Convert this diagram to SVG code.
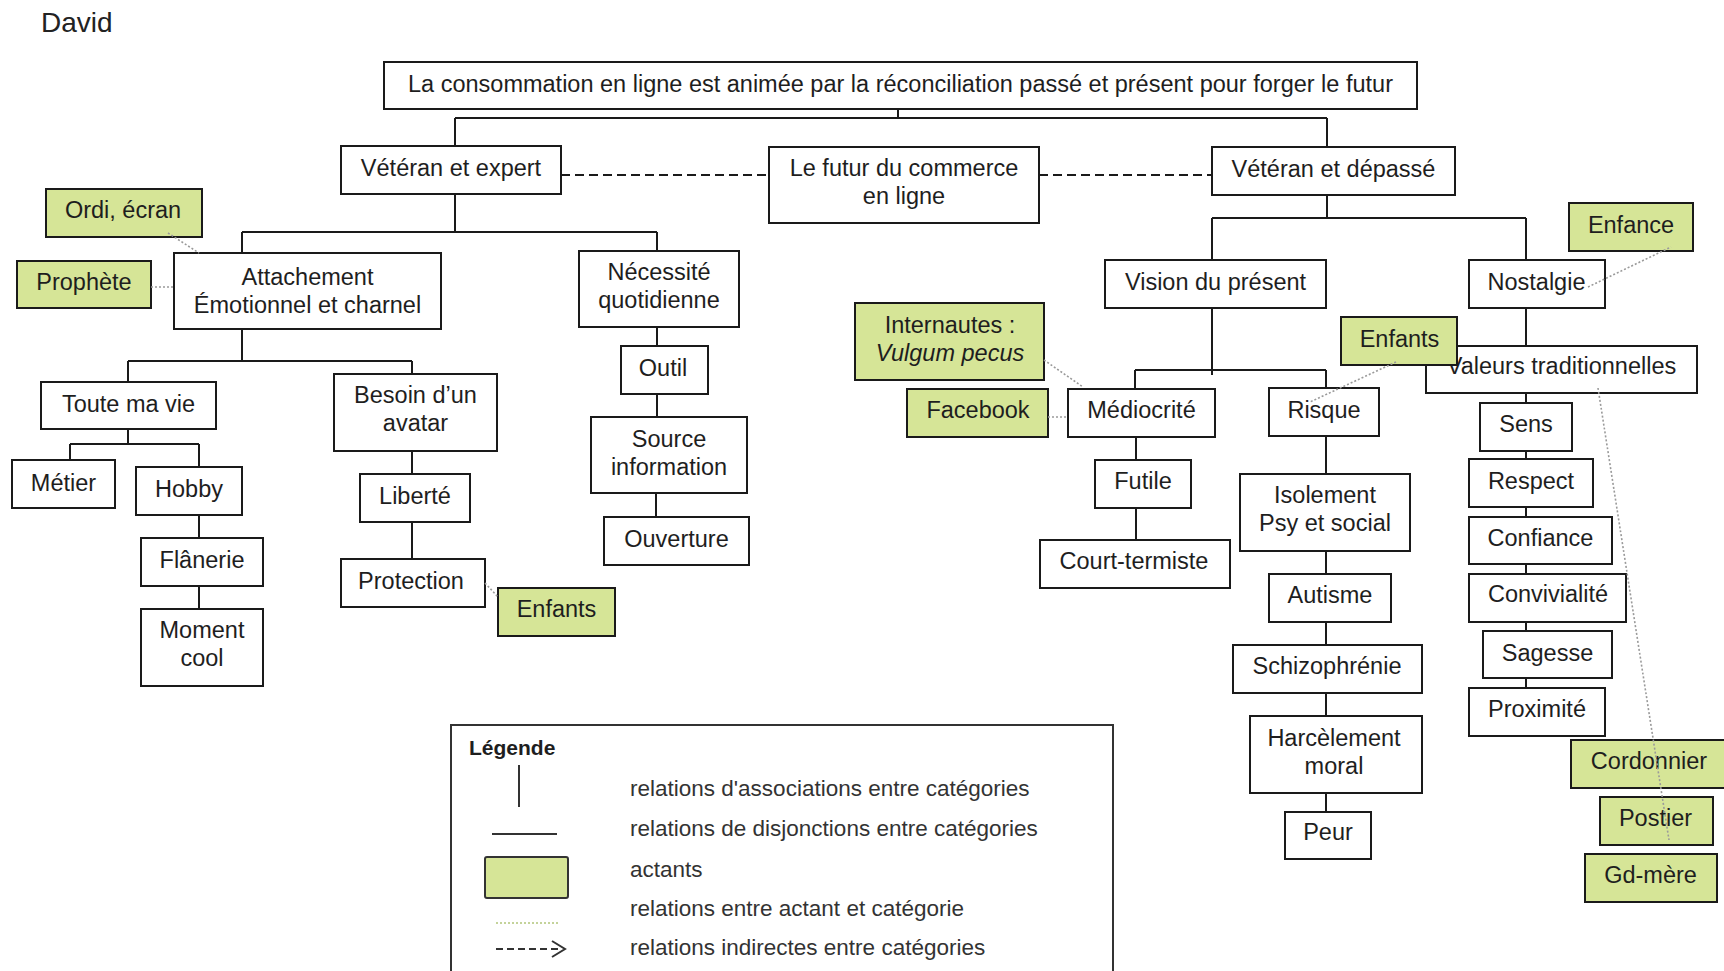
<svg xmlns="http://www.w3.org/2000/svg" width="1724" height="971" viewBox="0 0 1724 971">
<style>
  .box { fill: #ffffff; stroke: #1a1a1a; stroke-width: 2; }
  .act { fill: #d6e597; stroke: #1a1a1a; stroke-width: 2; }
  .t { font-family: "Liberation Sans", Arial, sans-serif; font-size: 23.5px; fill: #1e1e1e; text-anchor: middle; }
  .it { font-style: italic; }
  .line { fill: none; stroke: #1a1a1a; stroke-width: 2; }
  .dash { fill: none; stroke: #1a1a1a; stroke-width: 2; stroke-dasharray: 9 5; }
  .dot { fill: none; stroke: #9a9a9a; stroke-width: 1.6; stroke-dasharray: 2 2; }
  .lg { font-family: "Liberation Sans", Arial, sans-serif; font-size: 22.5px; fill: #333333; }
</style>
<rect width="1724" height="971" fill="#ffffff"/>
<text x="41" y="32" font-family="Liberation Sans, Arial, sans-serif" font-size="28" fill="#222222">David</text>

<g id="nodes">
  <g id="n-top"><rect class="box" x="384" y="62" width="1033" height="47"/><text class="t" x="900.5" y="92">La consommation en ligne est animée par la réconciliation passé et présent pour forger le futur</text></g>
  <g id="n-vexp"><rect class="box" x="341" y="146" width="220" height="48"/><text class="t" x="451" y="176">Vétéran et expert</text></g>
  <g id="n-futur"><rect class="box" x="769" y="147" width="270" height="76"/><text class="t" x="904" y="176">Le futur du commerce</text><text class="t" x="904" y="204">en ligne</text></g>
  <g id="n-vdep"><rect class="box" x="1212" y="147" width="243" height="48"/><text class="t" x="1333.5" y="177">Vétéran et dépassé</text></g>
  <g id="n-attach"><rect class="box" x="174" y="253" width="267" height="76"/><text class="t" x="307.5" y="285">Attachement</text><text class="t" x="307.5" y="313">Émotionnel et charnel</text></g>
  <g id="n-neces"><rect class="box" x="579" y="251" width="160" height="76"/><text class="t" x="659" y="280">Nécessité</text><text class="t" x="659" y="308">quotidienne</text></g>
  <g id="n-toute"><rect class="box" x="41" y="382" width="175" height="47"/><text class="t" x="128.5" y="412">Toute ma vie</text></g>
  <g id="n-besoin"><rect class="box" x="334" y="374" width="163" height="77"/><text class="t" x="415.5" y="403">Besoin d’un</text><text class="t" x="415.5" y="431">avatar</text></g>
  <g id="n-metier"><rect class="box" x="12" y="460" width="103" height="48"/><text class="t" x="63.5" y="491">Métier</text></g>
  <g id="n-hobby"><rect class="box" x="136" y="467" width="106" height="48"/><text class="t" x="189" y="497">Hobby</text></g>
  <g id="n-flanerie"><rect class="box" x="141" y="538" width="122" height="48"/><text class="t" x="202" y="568">Flânerie</text></g>
  <g id="n-moment"><rect class="box" x="141" y="609" width="122" height="77"/><text class="t" x="202" y="638">Moment</text><text class="t" x="202" y="666">cool</text></g>
  <g id="n-liberte"><rect class="box" x="360" y="474" width="110" height="48"/><text class="t" x="415" y="504">Liberté</text></g>
  <g id="n-protection"><rect class="box" x="341" y="559" width="144" height="48"/><text class="t" x="411" y="589">Protection</text></g>
  <g id="n-outil"><rect class="box" x="621" y="346" width="87" height="48"/><text class="t" x="663" y="376">Outil</text></g>
  <g id="n-source"><rect class="box" x="591" y="417" width="156" height="76"/><text class="t" x="669" y="447">Source</text><text class="t" x="669" y="475">information</text></g>
  <g id="n-ouverture"><rect class="box" x="604" y="517" width="145" height="48"/><text class="t" x="676.5" y="547">Ouverture</text></g>
  <g id="n-vision"><rect class="box" x="1105" y="260" width="221" height="48"/><text class="t" x="1215.5" y="290">Vision du présent</text></g>
  <g id="n-nostalgie"><rect class="box" x="1469" y="260" width="136" height="48"/><text class="t" x="1536.5" y="290">Nostalgie</text></g>
  <g id="n-mediocrite"><rect class="box" x="1068" y="389" width="147" height="48"/><text class="t" x="1141.5" y="418">Médiocrité</text></g>
  <g id="n-futile"><rect class="box" x="1095" y="460" width="96" height="48"/><text class="t" x="1143" y="489">Futile</text></g>
  <g id="n-court"><rect class="box" x="1040" y="540" width="190" height="48"/><text class="t" x="1134" y="569">Court-termiste</text></g>
  <g id="n-risque"><rect class="box" x="1269" y="388" width="110" height="48"/><text class="t" x="1324" y="418">Risque</text></g>
  <g id="n-isolement"><rect class="box" x="1240" y="474" width="170" height="77"/><text class="t" x="1325" y="503">Isolement</text><text class="t" x="1325" y="531">Psy et social</text></g>
  <g id="n-autisme"><rect class="box" x="1269" y="574" width="122" height="48"/><text class="t" x="1330" y="603">Autisme</text></g>
  <g id="n-schizo"><rect class="box" x="1233" y="645" width="189" height="48"/><text class="t" x="1327" y="674">Schizophrénie</text></g>
  <g id="n-harcel"><rect class="box" x="1250" y="716" width="172" height="77"/><text class="t" x="1334" y="746">Harcèlement</text><text class="t" x="1334" y="774">moral</text></g>
  <g id="n-peur"><rect class="box" x="1285" y="812" width="86" height="47"/><text class="t" x="1328" y="840">Peur</text></g>
  <g id="n-valeurs"><rect class="box" x="1426" y="346" width="271" height="47"/><text class="t" x="1561.5" y="374">Valeurs traditionnelles</text></g>
  <g id="n-sens"><rect class="box" x="1480" y="403" width="92" height="48"/><text class="t" x="1526" y="432">Sens</text></g>
  <g id="n-respect"><rect class="box" x="1469" y="459" width="124" height="48"/><text class="t" x="1531" y="489">Respect</text></g>
  <g id="n-confiance"><rect class="box" x="1469" y="517" width="143" height="47"/><text class="t" x="1540.5" y="546">Confiance</text></g>
  <g id="n-convivialite"><rect class="box" x="1469" y="574" width="157" height="48"/><text class="t" x="1548" y="602">Convivialité</text></g>
  <g id="n-sagesse"><rect class="box" x="1483" y="631" width="129" height="47"/><text class="t" x="1547.5" y="661">Sagesse</text></g>
  <g id="n-proximite"><rect class="box" x="1469" y="688" width="136" height="48"/><text class="t" x="1537" y="717">Proximité</text></g>

  <g id="a-ordi"><rect class="act" x="46" y="189" width="156" height="48"/><text class="t" x="123" y="218">Ordi, écran</text></g>
  <g id="a-prophete"><rect class="act" x="17" y="261" width="134" height="47"/><text class="t" x="84" y="290">Prophète</text></g>
  <g id="a-enfants1"><rect class="act" x="498" y="588" width="117" height="48"/><text class="t" x="556.5" y="617">Enfants</text></g>
  <g id="a-internautes"><rect class="act" x="855" y="303" width="189" height="77"/><text class="t" x="950" y="333">Internautes :</text><text class="t it" x="950" y="361">Vulgum pecus</text></g>
  <g id="a-facebook"><rect class="act" x="907" y="389" width="141" height="48"/><text class="t" x="978" y="418">Facebook</text></g>
  <g id="a-enfance"><rect class="act" x="1569" y="203" width="124" height="48"/><text class="t" x="1631" y="233">Enfance</text></g>
  <g id="a-enfants2"><rect class="act" x="1341" y="317" width="116" height="48"/><text class="t" x="1399.5" y="347">Enfants</text></g>
  <g id="a-cordonnier"><rect class="act" x="1571" y="740" width="165" height="48"/><text class="t" x="1649" y="769">Cordonnier</text></g>
  <g id="a-postier"><rect class="act" x="1600" y="797" width="113" height="48"/><text class="t" x="1655.5" y="826">Postier</text></g>
  <g id="a-gdmere"><rect class="act" x="1585" y="854" width="132" height="48"/><text class="t" x="1650.5" y="883">Gd-mère</text></g>
</g>

<g id="connectors">
  <path class="line" d="M898,109 V118 M455,118 H1327 M455,118 V146 M1327,118 V147"/>
  <path class="dash" d="M561,175 H769 M1039,175 H1212"/>
  <path class="line" d="M455,194 V232 M242,232 H657 M242,232 V253 M657,232 V251"/>
  <path class="line" d="M242,329 V361 M128,361 H412 M128,361 V382 M412,361 V374"/>
  <path class="line" d="M128,429 V444 M70,444 H199 M70,444 V460 M199,444 V467"/>
  <path class="line" d="M199,515 V538 M199,586 V609"/>
  <path class="line" d="M412,451 V474 M412,522 V559"/>
  <path class="line" d="M657,327 V346 M657,394 V417 M656,493 V517"/>
  <path class="line" d="M1327,195 V218 M1212,218 H1526 M1212,218 V260 M1526,218 V260"/>
  <path class="line" d="M1212,308 V375 M1135,370 H1326 M1135,370 V389 M1326,370 V388"/>
  <path class="line" d="M1136,437 V460 M1136,508 V540"/>
  <path class="line" d="M1326,436 V474 M1326,551 V574 M1326,622 V645 M1326,693 V716 M1326,793 V812"/>
  <path class="line" d="M1526,308 V346 M1526,393 V403 M1526,451 V459 M1526,507 V517 M1526,564 V574 M1526,622 V631 M1526,678 V688"/>
  <path class="dot" d="M168,233 L199,253"/>
  <path class="dot" d="M151,287 H174"/>
  <path class="dot" d="M485,583 L498,597"/>
  <path class="dot" d="M1044,360 L1083,387"/>
  <path class="dot" d="M1048,417 H1068"/>
  <path class="dot" d="M1396,362 L1310,402"/>
  <path class="dot" d="M1588,287 L1671,247"/>
  <path class="dot" d="M1598,388 L1669,840"/>
</g>

<g id="legend">
  <rect x="451" y="725" width="662" height="270" fill="#ffffff" stroke="#333333" stroke-width="2"/>
  <text x="469" y="755" font-family="Liberation Sans, Arial, sans-serif" font-size="21" font-weight="bold" fill="#1e1e1e">Légende</text>
  <line x1="519" y1="765" x2="519" y2="807" stroke="#333333" stroke-width="2"/>
  <line x1="492" y1="834" x2="557" y2="834" stroke="#333333" stroke-width="2"/>
  <rect x="485" y="857" width="83" height="41" rx="2" fill="#d6e597" stroke="#333333" stroke-width="2"/>
  <line x1="496" y1="923" x2="559" y2="923" stroke="#c4d39a" stroke-width="2" stroke-dasharray="2 2"/>
  <line x1="496" y1="949" x2="560" y2="949" stroke="#333333" stroke-width="2" stroke-dasharray="7 4"/>
  <polyline points="552,941 565,949 552,957" fill="none" stroke="#333333" stroke-width="2"/>
  <text class="lg" x="630" y="796">relations d'associations entre catégories</text>
  <text class="lg" x="630" y="836">relations de disjonctions entre catégories</text>
  <text class="lg" x="630" y="877">actants</text>
  <text class="lg" x="630" y="916">relations entre actant et catégorie</text>
  <text class="lg" x="630" y="955">relations indirectes entre catégories</text>
</g>
</svg>
